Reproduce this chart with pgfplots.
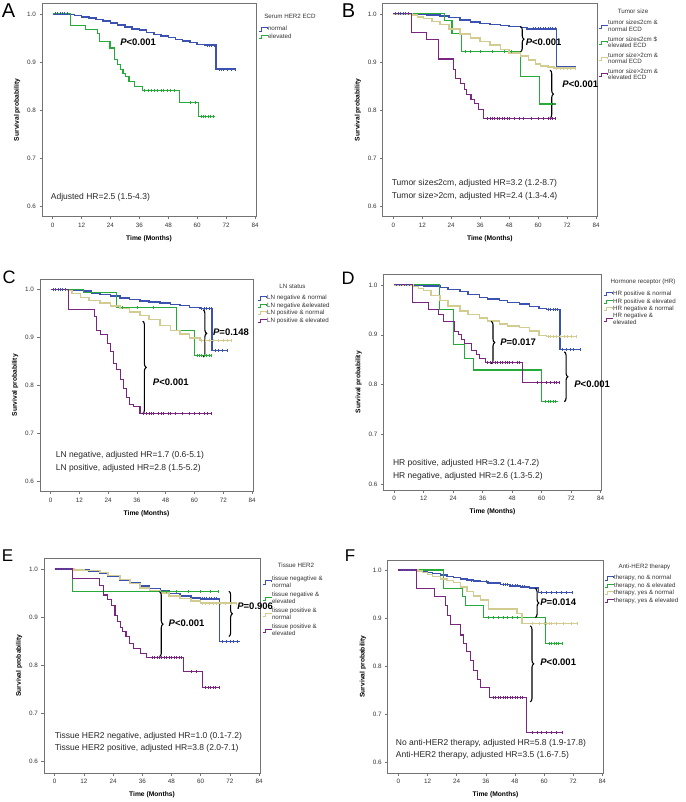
\documentclass[border=0pt]{standalone}
\usepackage{fontspec}
\setmainfont{Liberation Sans}
\usepackage{pgfplots}
\pgfplotsset{compat=1.18}
\usetikzlibrary{decorations.pathreplacing}

\definecolor{kmblue}{RGB}{60,82,178}
\definecolor{kmgreen}{RGB}{38,170,58}
\definecolor{kmtan}{RGB}{210,204,145}
\definecolor{kmpurple}{RGB}{122,38,128}

\pgfplotsset{
  kmaxis/.style={
    scale only axis, clip=false,
    xmin=-4.4, xmax=84.4, ymin=0.578, ymax=1.022,
    xtick={0,12,...,84}, ytick={0.6,0.7,0.8,0.9,1.0},
    y tick label style={/pgf/number format/fixed, /pgf/number format/fixed zerofill, /pgf/number format/precision=1},
    /pgf/number format/assume math mode=true,
    tick align=outside, tick pos=left, major tick length=2.5pt,
    axis line style={black!55, line width=0.5pt},
    every tick/.style={black!55, line width=0.5pt},
    tick label style={font=\fontsize{6.3}{7}\selectfont, text=black!80},
    label style={font=\fontsize{6.7}{7.5}\selectfont\bfseries},
    xlabel={Time (Months)}, ylabel={Survival probability},
    xlabel style={yshift=-1.5pt},
    legend cell align=left,
    legend image code/.code={\draw[#1, line width=0.9pt] (0pt,-1.6pt) -- (3pt,-1.6pt) -- (3pt,1.6pt) -- (8.5pt,1.6pt) -- (8.5pt,0.3pt);},
    legend style={draw=none, fill=none, inner sep=0pt, anchor=north west,
      font=\fontsize{6.2}{6.6}\selectfont, row sep=0.4pt, cells={align=left},
      nodes={inner sep=0.5pt, text=black!80}},
  },
  km/.style={const plot, line width=1.1pt},
  kmthick/.style={const plot, line width=1.5pt},
  cens/.style={only marks, mark=|, mark size=1.4pt, mark options={line width=0.5pt}, forget plot},
}
\tikzset{
  pbrace/.style={decorate, decoration={brace, amplitude=3.5pt}, line width=1.1pt, black},
  pval/.style={anchor=west, font=\fontsize{9.5}{10}\selectfont\bfseries, inner sep=0pt},
  hrtext/.style={anchor=west, font=\fontsize{8.5}{9}\selectfont, inner sep=0pt, text=black!85},
  ltitle/.style={font=\fontsize{6.2}{7}\selectfont, text=black!80},
  letter/.style={font=\fontsize{20}{22}\selectfont},
}

\begin{document}
\begin{tikzpicture}
\useasboundingbox (0,0) rectangle (685pt,-802pt);

% ---------------- A ----------------
\begin{axis}[kmaxis, at={(42pt,-216.7pt)}, width=214pt, height=213.4pt,
  legend style={at={(1.009,0.895)}}]
\addplot[kmthick, kmblue] coordinates {(0,1)(7,0.999)(9,0.997)(12,0.994)(15,0.991)(18,0.988)(21,0.985)(24,0.981)(27,0.977)(30,0.973)(33,0.969)(36,0.966)(39,0.961)(42,0.957)(45,0.954)(48,0.951)(51,0.947)(54,0.944)(57,0.940)(60,0.936)(63,0.935)(67.7,0.885)(75.6,0.885)};
\addlegendentry{normal}
\addplot[km, kmgreen] coordinates {(0,1)(7.5,0.976)(13.8,0.967)(18.5,0.960)(19.6,0.943)(23.8,0.929)(25.8,0.905)(27.1,0.894)(28.1,0.884)(29.2,0.876)(30.3,0.869)(31.7,0.860)(34,0.848)(37.3,0.841)(52.8,0.816)(60.6,0.787)(67.3,0.787)};
\addlegendentry{elevated}
\addplot[cens, kmblue] coordinates {(1,1)(2,1)(3,1)(4,1)(5,1)(6,1)(64,0.935)(65,0.935)(66,0.935)(67,0.935)(69,0.885)(70,0.885)(71,0.885)(72.5,0.885)(74,0.885)(75.6,0.885)};
\addplot[cens, kmgreen] coordinates {(38,0.841)(39.5,0.841)(41,0.841)(42,0.841)(43.5,0.841)(45,0.841)(46,0.841)(47.5,0.841)(49,0.841)(50.5,0.841)(57,0.816)(59,0.816)(61.5,0.787)(62.5,0.787)(63.5,0.787)(64.5,0.787)(65.5,0.787)(66.5,0.787)};
\node[pval] at (axis cs:28,0.94) {\textit{P}<0.001};
\node[hrtext] at (axis cs:-0.8,0.619) {Adjusted HR=2.5 (1.5-4.3)};
\end{axis}
\node[ltitle] at (290pt,-16.7pt) {Serum HER2 ECD};

% ---------------- B ----------------
\begin{axis}[kmaxis, at={(382.7pt,-216.7pt)}, width=214.3pt, height=213.4pt,
  legend style={at={(1.005,0.923)}, row sep=2.5pt}]
\addplot[kmthick, kmblue] coordinates {(0,1)(10,0.999)(14,0.998)(19.4,0.996)(23,0.992)(27.7,0.987)(32,0.983)(36,0.980)(40,0.978)(44.4,0.976)(48,0.974)(52.7,0.972)(55.4,0.969)(67.6,0.889)(75.5,0.889)};
\addlegendentry{tumor size≤2cm \&\\normal ECD}
\addplot[km, kmgreen] coordinates {(0,1)(21.2,0.987)(24.3,0.960)(28.4,0.921)(52.7,0.870)(60.7,0.8125)(67.6,0.8125)};
\addlegendentry{tumor size≤2cm \$\\elevated ECD}
\addplot[kmthick, kmtan] coordinates {(0,1)(8,0.998)(10,0.994)(12.5,0.990)(16,0.984)(19.4,0.978)(23,0.968)(27.7,0.958)(32,0.950)(36,0.943)(40,0.935)(44.4,0.926)(48,0.919)(52.7,0.912)(56,0.904)(59,0.896)(61,0.892)(64,0.889)(66.5,0.887)(75.5,0.887)};
\addlegendentry{tumor size>2cm \&\\normal ECD}
\addplot[km, kmpurple] coordinates {(0,1)(7.6,0.962)(13.9,0.9465)(18.7,0.906)(25,0.884)(25.6,0.865)(27.7,0.856)(29.4,0.842)(30.5,0.832)(32.2,0.822)(33.5,0.813)(35.3,0.801)(37.4,0.783)(67.2,0.783)};
\addlegendentry{tumor size>2cm \&\\elevated ECD}
\addplot[cens, kmblue] coordinates {(1,1)(2,1)(3,1)(4,1)(5,1)(6,1)(58,0.969)(59,0.969)(60,0.969)(61,0.969)(62,0.969)(63,0.969)(64,0.969)(65,0.969)(66,0.969)(67,0.969)(69,0.889)(70.5,0.889)(72,0.889)(73.5,0.889)(75.5,0.889)};
\addplot[cens, kmgreen] coordinates {(30,0.921)(32,0.921)(36,0.921)(41,0.921)(46,0.921)(49,0.921)(61.5,0.8125)(62.5,0.8125)(63.5,0.8125)(64.5,0.8125)(65.5,0.8125)(66.5,0.8125)};
\addplot[cens, kmtan] coordinates {(67.5,0.887)(69,0.887)(70.5,0.887)(72,0.887)(73.5,0.887)(75.5,0.887)};
\addplot[cens, kmpurple] coordinates {(39,0.783)(40,0.783)(41,0.783)(42,0.783)(43,0.783)(44,0.783)(45,0.783)(46,0.783)(47,0.783)(48,0.783)(50,0.783)(52,0.783)(54,0.783)(57,0.783)(60,0.783)(62,0.783)(64,0.783)(65,0.783)(66,0.783)(67,0.783)};
\draw[pbrace] (axis cs:52.7,0.974) -- (axis cs:52.7,0.921);
\node[pval] at (axis cs:54.8,0.941) {\textit{P}<0.001};
\draw[pbrace] (axis cs:64.9,0.883) -- (axis cs:64.9,0.783);
\node[pval] at (axis cs:70,0.853) {\textit{P}<0.001};
\node[hrtext] at (axis cs:-0.7,0.648) {Tumor size≤2cm, adjusted HR=3.2 (1.2-8.7)};
\node[hrtext] at (axis cs:-0.7,0.620) {Tumor size>2cm, adjusted HR=2.4 (1.3-4.4)};
\end{axis}
\node[ltitle] at (633pt,-11.7pt) {Tumor size};

% ---------------- C ----------------
\begin{axis}[kmaxis, at={(40pt,-491.7pt)}, width=213pt, height=212.7pt,
  legend style={at={(1.019,0.926)}}]
\addplot[kmthick, kmblue] coordinates {(0,1)(7,0.999)(10,0.998)(13.8,0.9965)(17,0.993)(20.7,0.9895)(25,0.986)(29,0.9826)(33,0.979)(37.3,0.9756)(41,0.974)(45.6,0.972)(50,0.969)(53.9,0.9666)(58,0.963)(62.2,0.960)(67.4,0.873)(73.6,0.873)};
\addlegendentry{LN negative \& normal}
\addplot[km, kmgreen] coordinates {(0,1)(13.8,0.993)(27.4,0.962)(52.5,0.914)(60.1,0.862)(67,0.862)};
\addlegendentry{LN negative \&elevated}
\addplot[kmthick, kmtan] coordinates {(0,1)(7,0.998)(9,0.992)(12.4,0.983)(16,0.977)(20.7,0.972)(25,0.966)(29,0.960)(33,0.953)(37.3,0.946)(41,0.937)(45.6,0.925)(50,0.915)(53.9,0.907)(58,0.899)(62.2,0.894)(75.3,0.894)};
\addlegendentry{LN positive \& normal}
\addplot[km, kmpurple] coordinates {(0,1)(7.6,0.958)(18.4,0.943)(19.3,0.915)(20.7,0.906)(23.9,0.887)(24.9,0.871)(26.3,0.845)(27.6,0.833)(29,0.812)(30.4,0.794)(31.5,0.774)(32.9,0.760)(34.5,0.755)(37.3,0.741)(67,0.741)};
\addlegendentry{LN positive \& elevated}
\addplot[cens, kmblue] coordinates {(1,1)(2,1)(3,1)(4,1)(5,1)(6,1)(63,0.960)(64,0.960)(65,0.960)(66,0.960)(67,0.960)(68.5,0.873)(70,0.873)(71.5,0.873)(73.6,0.873)};
\addplot[cens, kmgreen] coordinates {(30,0.962)(36,0.962)(43,0.962)(61,0.862)(62,0.862)(63,0.862)(64,0.862)(65,0.862)(66,0.862)(67,0.862)};
\addplot[cens, kmtan] coordinates {(63,0.894)(64.5,0.894)(66,0.894)(68,0.894)(70,0.894)(72,0.894)(73.5,0.894)(75.3,0.894)};
\addplot[cens, kmpurple] coordinates {(38.5,0.741)(40,0.741)(41,0.741)(42,0.741)(43,0.741)(45,0.741)(46,0.741)(47,0.741)(49,0.741)(50,0.741)(52,0.741)(55,0.741)(58,0.741)(60,0.741)(62,0.741)(64,0.741)(65.5,0.741)(67,0.741)};
\draw[pbrace] (axis cs:38.4,0.934) -- (axis cs:38.4,0.741);
\node[pval] at (axis cs:42.6,0.806) {\textit{P}<0.001};
\draw[pbrace] (axis cs:63.6,0.958) -- (axis cs:63.6,0.859);
\node[pval] at (axis cs:67.7,0.911) {\textit{P}=0.148};
\node[hrtext] at (axis cs:2.1,0.654) {LN negative, adjusted HR=1.7 (0.6-5.1)};
\node[hrtext] at (axis cs:2.1,0.627) {LN positive, adjusted HR=2.8 (1.5-5.2)};
\end{axis}
\node[ltitle] at (292.5pt,-286pt) {LN status};

% ---------------- D ----------------
\begin{axis}[kmaxis, at={(383.3pt,-490pt)}, width=218.4pt, height=215.7pt,
  ymin=0.589, ymax=1.0213,
  legend style={at={(1.006,0.925)}}]
\addplot[kmthick, kmblue] coordinates {(0,1)(7.8,0.999)(12,0.998)(18.6,0.9945)(22,0.991)(26.7,0.987)(30,0.981)(34.8,0.975)(38,0.972)(42.9,0.9685)(46,0.965)(51,0.9616)(55,0.957)(59,0.953)(62,0.951)(67.4,0.871)(75.5,0.871)};
\addlegendentry{HR positive \& normal}
\addplot[km, kmgreen] coordinates {(0,1)(18.6,0.950)(24,0.881)(28.7,0.853)(32.4,0.8295)(60.1,0.7664)(66.5,0.7664)};
\addlegendentry{HR positive \& elevated}
\addplot[kmthick, kmtan] coordinates {(0,1)(7.8,0.997)(10,0.993)(11.9,0.989)(15,0.979)(18.6,0.9685)(22,0.958)(26.7,0.948)(30,0.941)(34.8,0.934)(38,0.928)(42.9,0.922)(46,0.918)(51,0.915)(55,0.908)(59,0.899)(62,0.897)(73.9,0.897)};
\addlegendentry{HR negative \& normal}
\addplot[km, kmpurple] coordinates {(0,1)(7.5,0.964)(13.9,0.951)(17.9,0.941)(20,0.927)(24.7,0.907)(26,0.900)(27.3,0.890)(28.7,0.883)(31.4,0.869)(33.4,0.860)(34.8,0.852)(37,0.845)(52.3,0.804)(67.1,0.804)};
\addlegendentry{HR negative \&\\elevated}
\addplot[cens, kmblue] coordinates {(1,1)(2,1)(3,1)(4,1)(5,1)(6,1)(62.5,0.951)(63.5,0.951)(64.5,0.951)(65.5,0.951)(66.5,0.951)(68.5,0.871)(70,0.871)(71.5,0.871)(73,0.871)(75.5,0.871)};
\addplot[cens, kmgreen] coordinates {(41,0.8295)(43,0.8295)(45,0.8295)(47,0.8295)(49,0.8295)(51,0.8295)(61.5,0.7664)(62.5,0.7664)(63.5,0.7664)(64.5,0.7664)(65.5,0.7664)};
\addplot[cens, kmtan] coordinates {(62.5,0.897)(63.5,0.897)(64.5,0.897)(66,0.897)(67.5,0.897)(69,0.897)(70.5,0.897)(72,0.897)(73.9,0.897)};
\addplot[cens, kmpurple] coordinates {(38,0.845)(39,0.845)(40,0.845)(41,0.845)(42,0.845)(43,0.845)(44,0.845)(45,0.845)(46,0.845)(47,0.845)(48,0.845)(50,0.845)(51,0.845)(58,0.804)(60,0.804)(62,0.804)(63.5,0.804)(65,0.804)(66,0.804)(67.1,0.804)};
\draw[pbrace] (axis cs:39.5,0.927) -- (axis cs:39.5,0.842);
\node[pval] at (axis cs:43.1,0.886) {\textit{P}=0.017};
\draw[pbrace] (axis cs:69.2,0.866) -- (axis cs:69.2,0.766);
\node[pval] at (axis cs:73.2,0.801) {\textit{P}<0.001};
\node[hrtext] at (axis cs:-0.5,0.643) {HR positive, adjusted HR=3.2 (1.4-7.2)};
\node[hrtext] at (axis cs:-0.5,0.617) {HR negative, adjusted HR=2.6 (1.3-5.2)};
\end{axis}
\node[ltitle] at (643pt,-282.3pt) {Hormone receptor (HR)};

% ---------------- E ----------------
\begin{axis}[kmaxis, at={(44pt,-773pt)}, width=216pt, height=214.7pt,
  ymin=0.5765, ymax=1.0222,
  legend style={at={(1.009,0.92)}, row sep=2.5pt}]
\addplot[kmthick, kmblue] coordinates {(0,1)(6.9,0.999)(10,0.998)(14,0.995)(18.6,0.991)(22,0.985)(26.9,0.977)(31,0.971)(35.1,0.965)(39,0.960)(43.4,0.954)(47,0.949)(51.6,0.944)(56,0.940)(59.9,0.938)(67.7,0.850)(76.1,0.850)};
\addlegendentry{tissue negagtive \&\\normal}
\addplot[km, kmgreen] coordinates {(0,1)(7.3,0.953)(67.1,0.953)};
\addlegendentry{tissue negative \&\\elevated}
\addplot[kmthick, kmtan] coordinates {(0,1)(8,0.998)(12,0.997)(18.6,0.993)(22,0.987)(26.9,0.978)(31,0.970)(35.1,0.961)(39,0.955)(43.4,0.950)(47,0.944)(51.6,0.939)(56,0.934)(59.9,0.929)(74.5,0.929)};
\addlegendentry{tissue positive \&\\normal}
\addplot[km, kmpurple] coordinates {(0,1)(7.3,0.981)(18.6,0.965)(20,0.946)(21.6,0.936)(23.4,0.925)(24.8,0.904)(25.8,0.891)(26.9,0.879)(28,0.870)(29.3,0.860)(30.7,0.846)(32.4,0.835)(35.1,0.825)(37.9,0.816)(53,0.787)(60.6,0.754)(67.5,0.754)};
\addlegendentry{tissue positive \&\\elevated}
\addplot[cens, kmblue] coordinates {(1,1)(2,1)(3,1)(4,1)(5,1)(6,1)(60.5,0.938)(61.5,0.938)(62.5,0.938)(63.5,0.938)(64.5,0.938)(65.5,0.938)(66.5,0.938)(69,0.850)(70.5,0.850)(72,0.850)(73.5,0.850)(75,0.850)};
\addplot[cens, kmgreen] coordinates {(46,0.953)(50,0.953)(55,0.953)(60,0.953)(64,0.953)(67.1,0.953)};
\addplot[cens, kmtan] coordinates {(60.5,0.929)(62,0.929)(63.5,0.929)(65,0.929)(66.5,0.929)(68,0.929)(70,0.929)(72,0.929)(74.5,0.929)};
\addplot[cens, kmpurple] coordinates {(40,0.816)(41,0.816)(42,0.816)(43,0.816)(44,0.816)(45,0.816)(46,0.816)(47,0.816)(48,0.816)(49,0.816)(50,0.816)(51,0.816)(52,0.816)(56,0.787)(58,0.787)(62,0.754)(63,0.754)(64,0.754)(65,0.754)(66,0.754)(67.5,0.754)};
\draw[pbrace] (axis cs:43.1,0.953) -- (axis cs:43.1,0.818);
\node[pval] at (axis cs:46.8,0.887) {\textit{P}<0.001};
\draw[pbrace] (axis cs:71.6,0.954) -- (axis cs:71.6,0.860);
\node[pval] at (axis cs:75,0.922) {\textit{P}=0.906};
\node[hrtext] at (axis cs:0,0.652) {Tissue HER2 negative, adjusted HR=1.0 (0.1-7.2)};
\node[hrtext] at (axis cs:0,0.628) {Tissue HER2 positive, adjusted HR=3.8 (2.0-7.1)};
\end{axis}
\node[ltitle] at (296pt,-565.7pt) {Tissue HER2};

% ---------------- F ----------------
\begin{axis}[kmaxis, at={(387.7pt,-773pt)}, width=215.6pt, height=213pt,
  ymin=0.578, ymax=1.0208,
  legend style={at={(1.003,0.931)}}]
\addplot[kmthick, kmblue] coordinates {(0,1)(7.5,0.999)(10,0.997)(11.9,0.995)(14,0.993)(17.4,0.990)(20,0.987)(22.8,0.984)(25.5,0.981)(28.3,0.979)(31,0.977)(33.8,0.976)(37,0.973)(42,0.970)(46,0.967)(50.2,0.965)(54,0.963)(57.7,0.9535)(71.8,0.9535)};
\addlegendentry{therapy, no \& normal}
\addplot[km, kmgreen] coordinates {(0,1)(18.7,0.962)(26.3,0.945)(27.6,0.926)(35.2,0.901)(60.5,0.8475)(67.3,0.8475)};
\addlegendentry{therapy, no \& elevated}
\addplot[kmthick, kmtan] coordinates {(0,1)(8,0.998)(10,0.995)(11.9,0.991)(14,0.987)(17.4,0.981)(20,0.978)(22.8,0.974)(25.6,0.965)(28.3,0.955)(31,0.946)(33.8,0.9376)(37.2,0.919)(48.8,0.910)(50.9,0.889)(73.7,0.889)};
\addlegendentry{therapy, yes \& normal}
\addplot[km, kmpurple] coordinates {(0,1)(7.5,0.962)(15,0.9445)(19.4,0.926)(20.4,0.906)(21.5,0.887)(25.6,0.865)(26.7,0.8475)(28,0.830)(29.7,0.811)(31.1,0.792)(32.4,0.773)(33.8,0.755)(37.5,0.735)(52.7,0.662)(67.3,0.662)};
\addlegendentry{therapy, yes \& elevated}
\addplot[cens, kmblue] coordinates {(1,1)(2,1)(3,1)(4,1)(5,1)(6,1)(30,0.979)(36,0.976)(39,0.973)(41,0.973)(43,0.970)(44,0.970)(45,0.970)(47,0.967)(48,0.967)(49,0.967)(51,0.965)(52,0.965)(59,0.9535)(61,0.9535)(63,0.9535)(65,0.9535)(67,0.9535)(69,0.9535)(71.8,0.9535)};
\addplot[cens, kmgreen] coordinates {(37,0.901)(39,0.901)(41,0.901)(43,0.901)(45,0.901)(47,0.901)(49,0.901)(62,0.8475)(63,0.8475)(64,0.8475)(65,0.8475)(66,0.8475)(67.3,0.8475)};
\addplot[cens, kmtan] coordinates {(38,0.919)(39,0.919)(40,0.919)(41,0.919)(42,0.919)(43,0.919)(44,0.919)(45,0.919)(46,0.919)(47,0.919)(55,0.889)(58,0.889)(60,0.889)(61,0.889)(62,0.889)(63,0.889)(65,0.889)(68,0.889)(71,0.889)(73.7,0.889)};
\addplot[cens, kmpurple] coordinates {(39,0.735)(40,0.735)(41,0.735)(42,0.735)(43,0.735)(44,0.735)(45,0.735)(46,0.735)(47,0.735)(48,0.735)(49,0.735)(50,0.735)(51,0.735)(55,0.662)(57,0.662)(59,0.662)(61,0.662)(63,0.662)(65,0.662)(67.3,0.662)};
\draw[pbrace] (axis cs:56.4,0.962) -- (axis cs:56.4,0.901);
\node[pval] at (axis cs:58.4,0.934) {\textit{P}=0.014};
\draw[pbrace] (axis cs:54.3,0.884) -- (axis cs:54.3,0.726);
\node[pval] at (axis cs:58.4,0.809) {\textit{P}<0.001};
\node[hrtext] at (axis cs:-1.1,0.640) {No anti-HER2 therapy, adjusted HR=5.8 (1.9-17.8)};
\node[hrtext] at (axis cs:-1.1,0.614) {Anti-HER2 therapy, adjusted HR=3.5 (1.6-7.5)};
\end{axis}
\node[ltitle] at (644.5pt,-566.7pt) {Anti-HER2 therapy};

% panel letters
\node[letter] at (8.5pt,-10.5pt) {A};
\node[letter] at (348.5pt,-10.5pt) {B};
\node[letter, font=\fontsize{18}{20}\selectfont] at (9pt,-277pt) {C};
\node[letter, font=\fontsize{18}{20}\selectfont] at (348pt,-278pt) {D};
\node[letter, font=\fontsize{17}{19}\selectfont] at (7.5pt,-556pt) {E};
\node[letter, font=\fontsize{17}{19}\selectfont] at (350pt,-556pt) {F};
\end{tikzpicture}
\end{document}
